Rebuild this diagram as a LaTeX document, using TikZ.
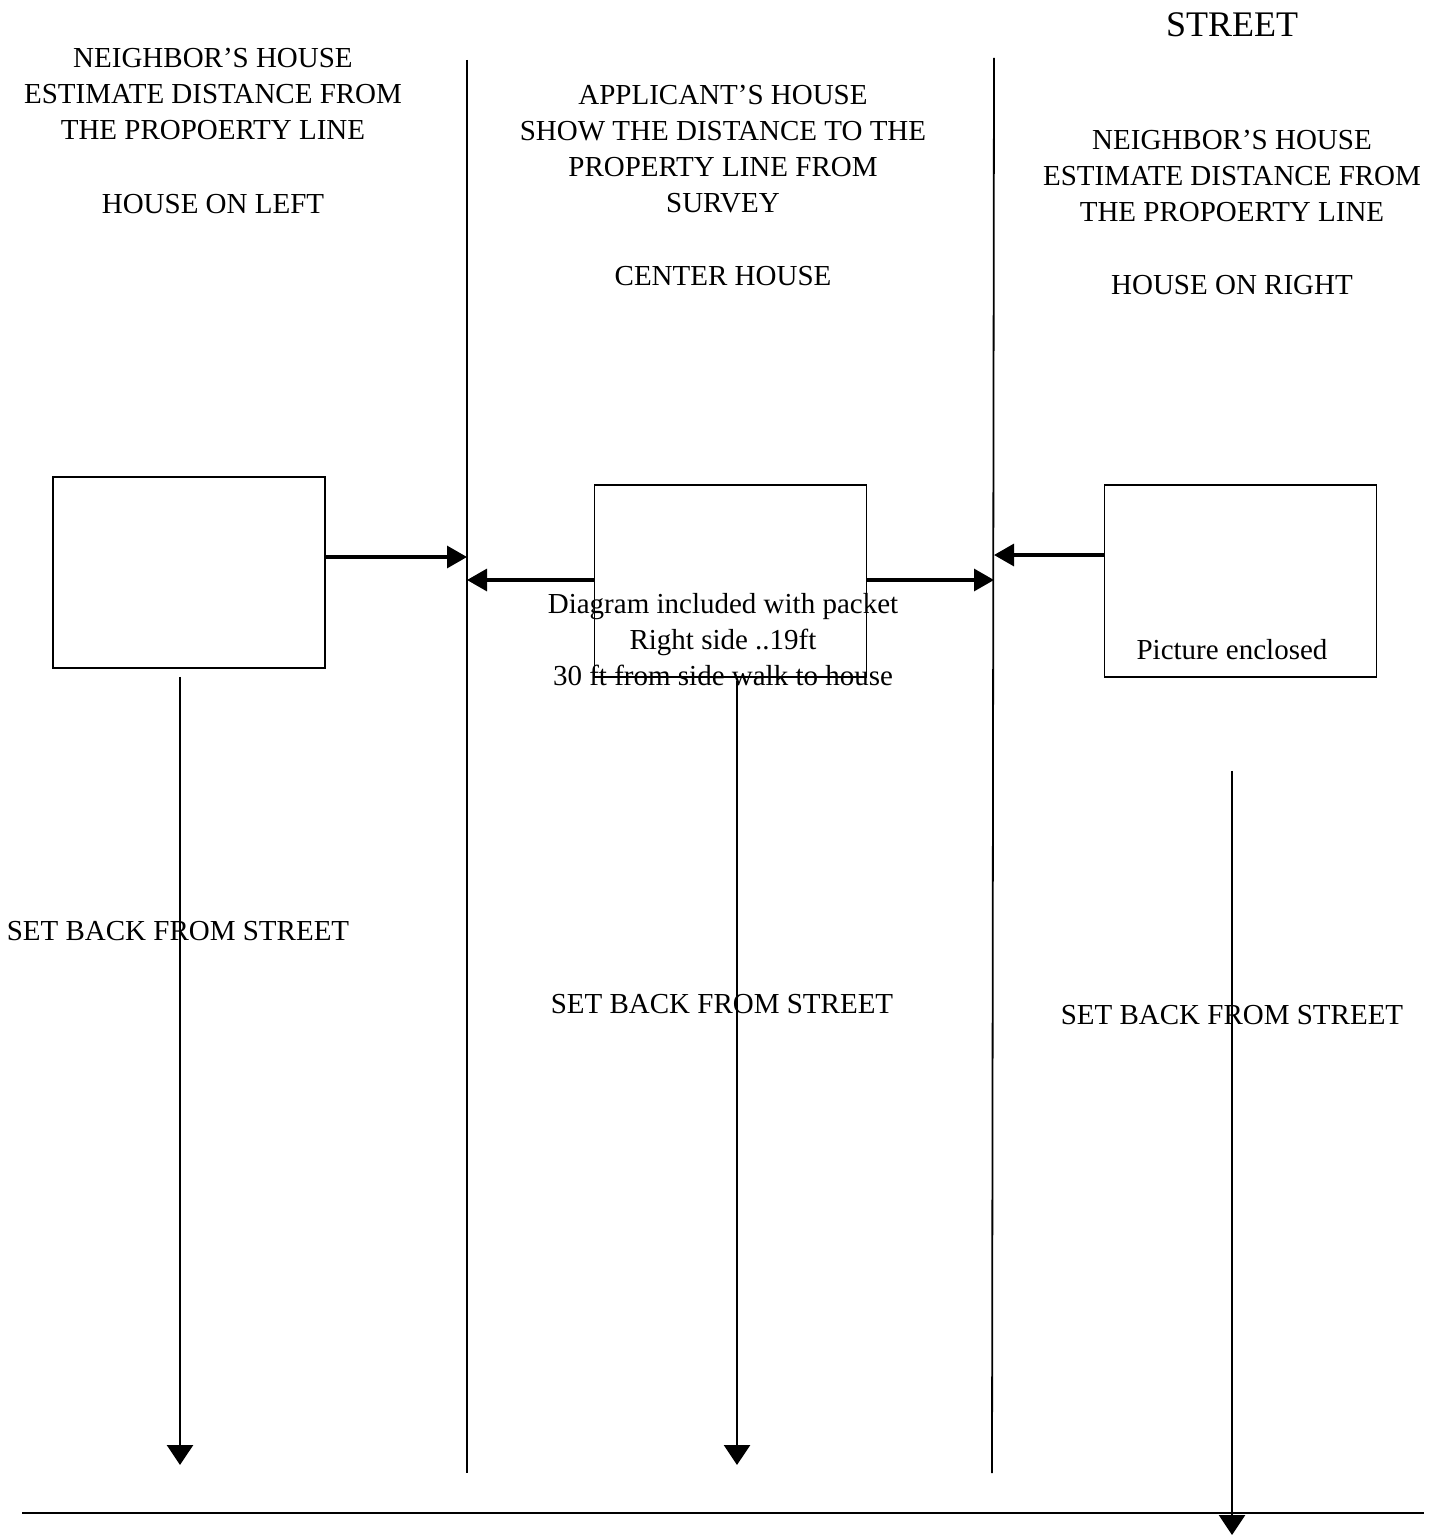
\documentclass[tikz,border=0pt]{standalone}
\usepackage{fontspec}
\setmainfont{Liberation Serif}
\usetikzlibrary{arrows.meta}
\begin{document}
\begin{tikzpicture}[x=1pt,y=-1pt,
  txt/.style={font=\fontsize{29}{36}\selectfont, align=center, inner sep=0pt, anchor=base},
  housebox/.style={draw, line width=1.8pt, minimum width=272pt, inner sep=0pt},
  propline/.style={line width=1.8pt},
  arr/.style={line width=3.2pt, -{Triangle[length=20pt,width=22pt]}},
  darr/.style={line width=2.6pt, -{Triangle[length=20pt,width=26pt]}}]
\useasboundingbox (0,0) rectangle (1439,1536);
% headings (anchor = baseline of the last line)
\node[txt, font=\fontsize{36}{40}\selectfont] (street) at (1232,37) {STREET};
\node[txt] (lefttxt) at (213,213) {NEIGHBOR’S HOUSE\\ESTIMATE DISTANCE FROM\\THE PROPOERTY LINE\\[38pt]HOUSE ON LEFT};
\node[txt] (centtxt) at (723,285) {APPLICANT’S HOUSE\\SHOW THE DISTANCE TO THE\\PROPERTY LINE FROM\\SURVEY\\[37pt]CENTER HOUSE};
\node[txt] (righttxt) at (1232,294) {NEIGHBOR’S HOUSE\\ESTIMATE DISTANCE FROM\\THE PROPOERTY LINE\\[37pt]HOUSE ON RIGHT};
% property lines
\coordinate (pl1t) at (467,60);  \coordinate (pl1b) at (467,1473);
\coordinate (pl2t) at (994,58);  \coordinate (pl2b) at (992,1473);
\draw[propline] (pl1t) -- (pl1b);
\draw[propline] (pl2t) -- (pl2b);
\coordinate (stl) at (22,1513); \coordinate (str) at (1424,1513);
\draw[propline] (stl) -- (str);
% houses
\node[housebox, minimum height=191pt] (lh) at (189,572.5) {};
\node[housebox, minimum height=192pt] (ch) at (730.5,581) {};
\node[housebox, minimum height=192pt] (rh) at (1240.5,581) {};
% side arrows
\draw[arr] ([yshift=15.5pt]lh.east) -- ([yshift=15.5pt]lh.east -| pl1t);
\draw[arr] ([yshift=1pt]ch.west) -- ([yshift=1pt]ch.west -| pl1t);
\draw[arr] ([yshift=1pt]ch.east) -- ([yshift=1pt]ch.east -| pl2t);
\draw[arr] ([yshift=26pt]rh.west) -- ([yshift=26pt]rh.west -| pl2t);
% setback arrows
\coordinate (le) at (180,1465);
\coordinate (ce) at (737,1465);
\coordinate (re) at (1232,1535);
\draw[darr] ([xshift=-9pt,yshift=-8pt]lh.south) -- (le);
\draw[darr] ([xshift=6.5pt,yshift=-3pt]ch.south) -- (ce);
\draw[darr] ([xshift=-8.5pt,yshift=-93pt]rh.south) -- (re);
% in-box texts
\node[txt] (ctext) at (723,685) {Diagram included with packet\\Right side ..19ft\\30 ft from side walk to house};
\node[txt] (rtext) at (1232,659) {Picture enclosed};
% setback labels
\node[txt] (sb1) at (178,940) {SET BACK FROM STREET};
\node[txt] (sb2) at (722,1013) {SET BACK FROM STREET};
\node[txt] (sb3) at (1232,1024) {SET BACK FROM STREET};
\end{tikzpicture}
\end{document}
